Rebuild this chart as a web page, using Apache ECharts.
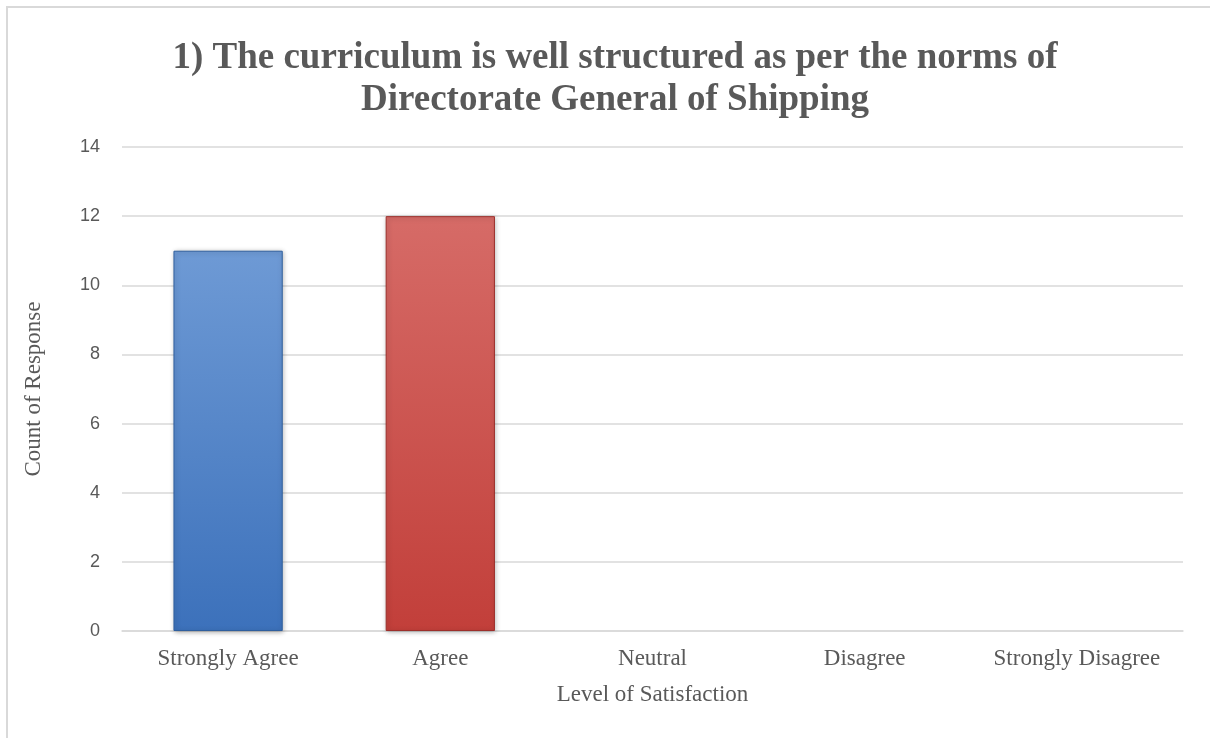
<!DOCTYPE html>
<html><head><meta charset="utf-8">
<script src="https://cdn.jsdelivr.net/npm/echarts@6/dist/echarts.min.js"></script>
<style>
html,body{margin:0;padding:0;background:#fff;overflow:hidden;width:1210px;height:738px;}
#frame{position:absolute;left:6px;top:6px;width:1300px;height:800px;border:2px solid #d9d9d9;box-sizing:border-box;}
#c{position:absolute;left:0;top:0;width:1210px;height:738px;}
</style></head>
<body>
<div id="frame"></div>
<div id="c"></div>
<script>
const categories = ['Strongly Agree','Agree','Neutral','Disagree','Strongly Disagree'];
const counts = [11, 12, 0, 0, 0];
const yTicks = [0, 2, 4, 6, 8, 10, 12, 14];
const titleLines = ['1) The curriculum is well structured as per the norms of', 'Directorate General of Shipping'];

const gradients = [
  ['#6e9ad5', '#3c71bb', '#2f5f9e'],
  ['#d66b67', '#c23f3a', '#9c2f2b']
];
function grad(i){
  const g = gradients[i % gradients.length];
  return new echarts.graphic.LinearGradient(0,0,0,1,[{offset:0,color:g[0]},{offset:1,color:g[1]}]);
}
const chart = echarts.init(document.getElementById('c'), null, {renderer:'canvas'});
chart.setOption({
  animation:false,
  title:{
    text: titleLines.join('\n'),
    left: 610, top: 32, textAlign:'center',
    textStyle:{fontFamily:'Liberation Serif', fontWeight:'bold', fontSize:37, color:'#595959', lineHeight:42}
  },
  grid:{left:122, right:27, top:147, bottom:107},
  xAxis:{
    type:'category', data:categories,
    axisLine:{lineStyle:{color:'#d9d9d9', width:1.5}},
    axisTick:{show:false},
    axisLabel:{interval:0, fontFamily:'Liberation Serif', fontSize:23, color:'#595959', margin:16},
    name:'Level of Satisfaction', nameLocation:'middle', nameGap:52,
    nameTextStyle:{fontFamily:'Liberation Serif', fontSize:23, color:'#595959'}
  },
  yAxis:{
    type:'value', min:0, max:14, interval:2,
    axisLabel:{fontFamily:'Liberation Sans', fontSize:18, color:'#595959', margin:22,
      formatter: v => yTicks.includes(v) ? String(v) : ''},
    splitLine:{lineStyle:{color:'#d9d9d9', width:1.5}},
    axisLine:{show:false}, axisTick:{show:false},
    name:'Count of Response', nameLocation:'middle', nameGap:77,
    nameTextStyle:{fontFamily:'Liberation Serif', fontSize:23, color:'#595959'}
  },
  series:[{
    type:'bar', barWidth:'51.5%',
    data: counts.map((v,i)=>({value:v, itemStyle: v > 0 ? {
      color: grad(i),
      borderColor: gradients[i % gradients.length][2], borderWidth:1,
      shadowColor:'rgba(0,0,0,0.3)', shadowBlur:5, shadowOffsetX:1, shadowOffsetY:1
    } : {color:'rgba(0,0,0,0)', borderWidth:0}}))
  }]
});
</script>
</body></html>
